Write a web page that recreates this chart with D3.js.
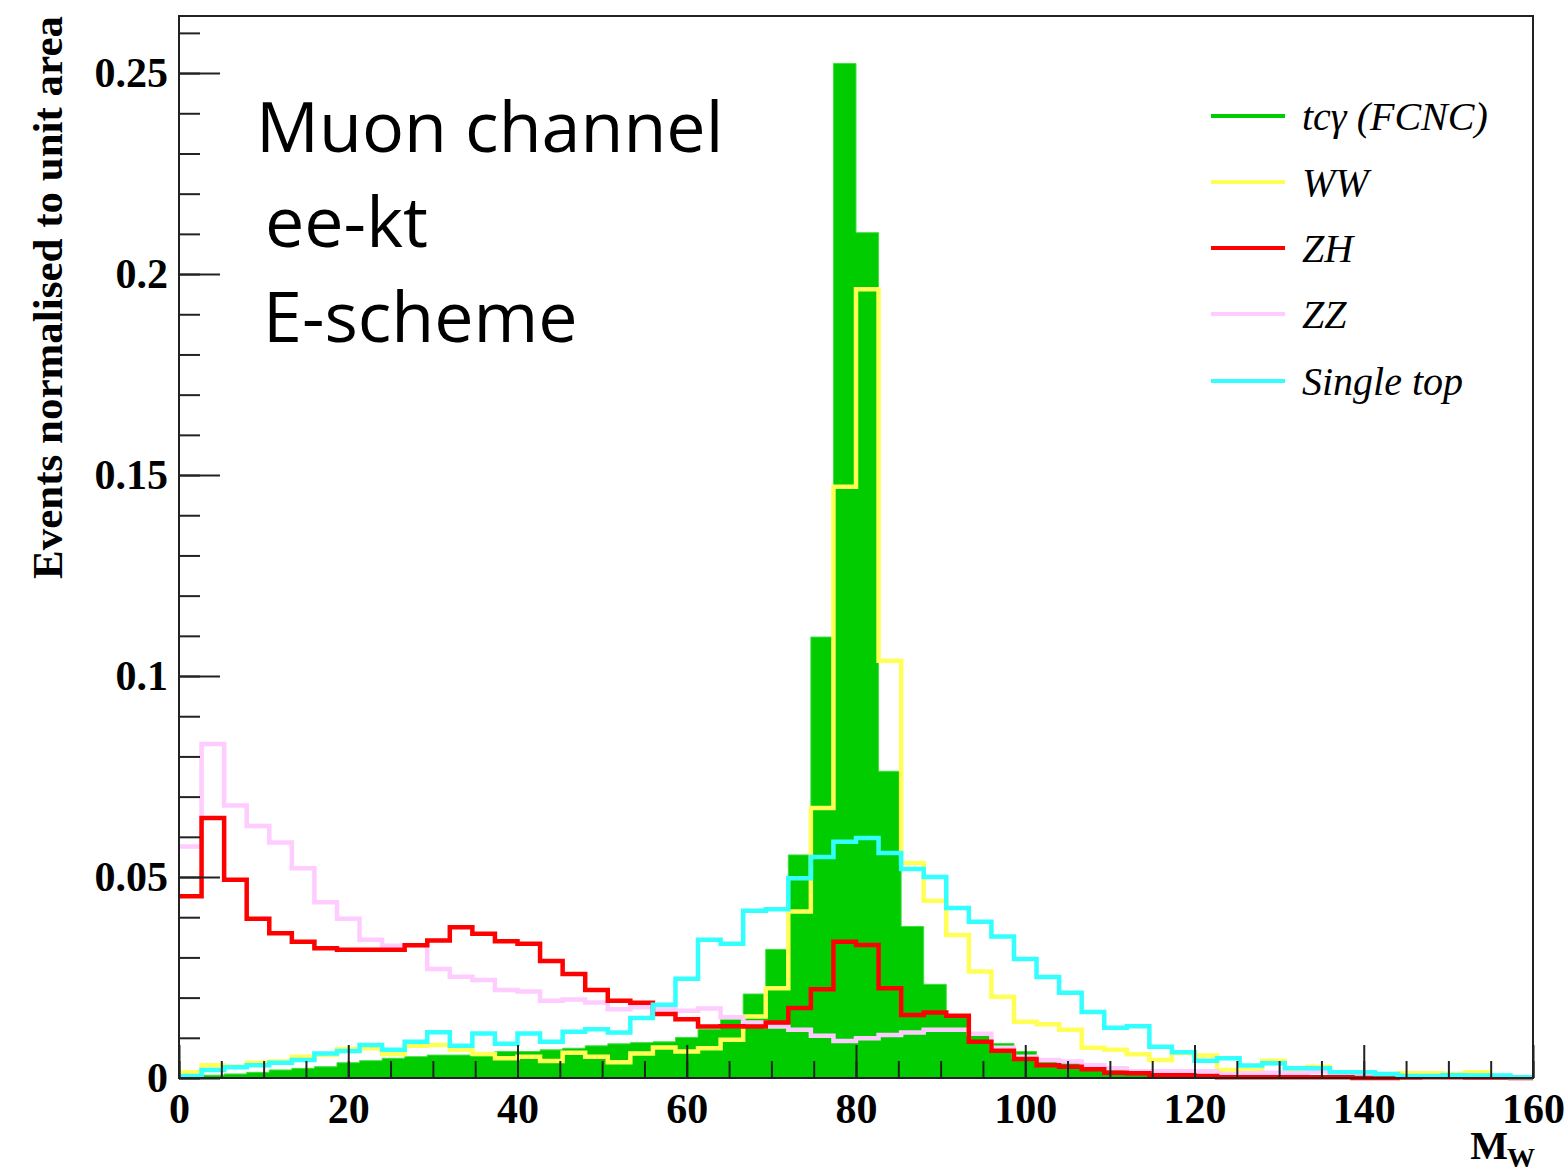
<!DOCTYPE html>
<html>
<head>
<meta charset="utf-8">
<script src="https://cdn.jsdelivr.net/npm/d3@7"></script>
<style>
  html, body { margin: 0; padding: 0; background: #fff; }
  svg { display: block; }
</style>
</head>
<body>
<svg id="chart" width="1568" height="1172"></svg>
<script>
// Histogram binning of the reconstructed W mass (GeV): 60 equal bins on [0, 160]
const binLow = 0;
const binHigh = 160;
const nBins = 60;

// Normalised bin contents, one array per sample
const tcgamma = [
  0.0003, 0.0007, 0.0010, 0.0014, 0.0020, 0.0024, 0.0028, 0.0038, 0.0043, 0.0049,
  0.0053, 0.0057, 0.0057, 0.0055, 0.0066, 0.0066, 0.0070, 0.0074, 0.0080, 0.0085,
  0.0088, 0.0090, 0.0101, 0.0121, 0.0146, 0.0209, 0.0320, 0.0555, 0.1097, 0.2524,
  0.2103, 0.0763, 0.0377, 0.0233, 0.0157, 0.0113, 0.0086, 0.0066, 0.0041, 0.0038,
  0.0028, 0.0020, 0.0012, 0.0015, 0.0008, 0.0006, 0.0004, 0.0007, 0.0003, 0.0002,
  0.0001, 0.0001, 0.0001, 0.0001, 0.0000, 0.0000, 0.0000, 0.0000, 0.0000, 0.0000
];
const ww = [
  0.0014, 0.0032, 0.0028, 0.0038, 0.0041, 0.0053, 0.0058, 0.0072, 0.0074, 0.0060,
  0.0080, 0.0082, 0.0070, 0.0060, 0.0049, 0.0053, 0.0042, 0.0063, 0.0053, 0.0039,
  0.0061, 0.0076, 0.0066, 0.0074, 0.0095, 0.0153, 0.0223, 0.0414, 0.0672, 0.1471,
  0.1962, 0.1038, 0.0535, 0.0441, 0.0356, 0.0265, 0.0202, 0.0140, 0.0134, 0.0120,
  0.0075, 0.0070, 0.0059, 0.0045, 0.0062, 0.0056, 0.0020, 0.0020, 0.0043, 0.0016,
  0.0028, 0.0014, 0.0013, 0.0010, 0.0012, 0.0012, 0.0010, 0.0014, 0.0004, 0.0001
];
const zh = [
  0.0452, 0.0647, 0.0493, 0.0396, 0.0360, 0.0339, 0.0323, 0.0319, 0.0319, 0.0319,
  0.0330, 0.0342, 0.0375, 0.0359, 0.0340, 0.0334, 0.0291, 0.0259, 0.0219, 0.0192,
  0.0187, 0.0159, 0.0146, 0.0128, 0.0129, 0.0128, 0.0138, 0.0174, 0.0221, 0.0339,
  0.0331, 0.0223, 0.0157, 0.0163, 0.0155, 0.0090, 0.0068, 0.0047, 0.0032, 0.0028,
  0.0022, 0.0013, 0.0012, 0.0007, 0.0007, 0.0005, 0.0002, 0.0002, 0.0002, 0.0002,
  0.0002, 0.0002, 0.0000, 0.0000, 0.0001, 0.0002, 0.0002, 0.0001, 0.0001, 0.0000
];
const zz = [
  0.0576, 0.0831, 0.0678, 0.0627, 0.0586, 0.0522, 0.0437, 0.0396, 0.0344, 0.0329,
  0.0330, 0.0271, 0.0252, 0.0244, 0.0219, 0.0215, 0.0192, 0.0195, 0.0188, 0.0171,
  0.0176, 0.0171, 0.0167, 0.0173, 0.0151, 0.0138, 0.0128, 0.0120, 0.0105, 0.0092,
  0.0099, 0.0107, 0.0113, 0.0120, 0.0120, 0.0110, 0.0075, 0.0053, 0.0045, 0.0041,
  0.0032, 0.0024, 0.0017, 0.0017, 0.0017, 0.0017, 0.0010, 0.0012, 0.0013, 0.0012,
  0.0016, 0.0006, 0.0005, 0.0004, 0.0003, 0.0003, 0.0003, 0.0002, 0.0002, 0.0001
];
const singleTop = [
  0.0005, 0.0020, 0.0027, 0.0032, 0.0038, 0.0045, 0.0061, 0.0067, 0.0082, 0.0070,
  0.0090, 0.0114, 0.0080, 0.0111, 0.0085, 0.0111, 0.0090, 0.0115, 0.0121, 0.0113,
  0.0149, 0.0182, 0.0247, 0.0344, 0.0334, 0.0416, 0.0420, 0.0497, 0.0550, 0.0588,
  0.0597, 0.0560, 0.0520, 0.0500, 0.0423, 0.0389, 0.0352, 0.0296, 0.0251, 0.0212,
  0.0164, 0.0125, 0.0129, 0.0078, 0.0064, 0.0043, 0.0049, 0.0031, 0.0037, 0.0024,
  0.0024, 0.0014, 0.0014, 0.0010, 0.0005, 0.0005, 0.0007, 0.0006, 0.0006, 0.0002
];

// Legend entries, in display order
const legendLabels = ["tc\u03b3 (FCNC)", "WW", "ZH", "ZZ", "Single top"];
const legendColors = ["#00cc00", "#ffff55", "#ff0000", "#ffccff", "#33ffff"];

// Axis ticks
const xMajorTicks = [0, 20, 40, 60, 80, 100, 120, 140, 160];
const xMinorTicks = d3.range(0, 161, 5);
const yMajorTicks = [0, 0.05, 0.1, 0.15, 0.2, 0.25];
const yTickLabels = ["0", "0.05", "0.1", "0.15", "0.2", "0.25"];
const yMinorTicks = d3.range(0, 27).map(i => i / 100);

const yMax = 0.2642;

// Annotation lines in the upper-left corner
const infoLines = ["Muon channel", "ee-kt", "E-scheme"];

// ---------- layout ----------
const svg = d3.select("#chart");
const frame = { left: 179, right: 1533, top: 16, bottom: 1078 };

const x = d3.scaleLinear().domain([binLow, binHigh]).range([frame.left, frame.right]);
const y = d3.scaleLinear().domain([0, yMax]).range([frame.bottom, frame.top]);

const binWidth = (binHigh - binLow) / nBins;
const edges = d3.range(nBins + 1).map(i => binLow + i * binWidth);

// Step points: (left edge, content) for every bin, closed at the upper edge
function stepPoints(vals) {
  const pts = vals.map((v, i) => ({ e: edges[i], v }));
  pts.push({ e: edges[nBins], v: vals[nBins - 1] });
  return pts;
}

const stepLine = d3.line()
  .x(d => x(d.e))
  .y(d => y(d.v))
  .curve(d3.curveStepAfter);

const stepArea = d3.area()
  .x(d => x(d.e))
  .y0(y(0))
  .y1(d => y(d.v))
  .curve(d3.curveStepAfter);

const plot = svg.append("g");

// Signal drawn as a filled histogram
plot.append("path")
  .datum(stepPoints(tcgamma))
  .attr("d", stepArea)
  .attr("fill", "#00cc00")
  .attr("stroke", "#3fe03f")
  .attr("stroke-width", 1);

// Backgrounds drawn as outlined histograms
const outlines = [
  { vals: ww, color: legendColors[1] },
  { vals: zz, color: legendColors[3] },
  { vals: zh, color: legendColors[2] },
  { vals: singleTop, color: legendColors[4] }
];
outlines.forEach(s => {
  plot.append("path")
    .datum(stepPoints(s.vals))
    .attr("d", stepLine)
    .attr("fill", "none")
    .attr("stroke", s.color)
    .attr("stroke-width", 4.5)
    .attr("stroke-linejoin", "miter");
});

// ---------- axes ----------
const tickFont = "'Liberation Serif', 'Times New Roman', serif";

const yMinorAxis = d3.axisLeft(y).tickValues(yMinorTicks).tickSize(-21).tickFormat("");
const yMajorAxis = d3.axisLeft(y).tickValues(yMajorTicks).tickSize(-41).tickPadding(11)
  .tickFormat((d, i) => yTickLabels[i]);
const xMinorAxis = d3.axisBottom(x).tickValues(xMinorTicks).tickSize(-17).tickFormat("");
const xMajorAxis = d3.axisBottom(x).tickValues(xMajorTicks).tickSize(-33).tickPadding(15)
  .tickFormat(d3.format("d"));

function styleAxis(g) {
  g.select(".domain").remove();
  g.selectAll(".tick line").attr("stroke", "#222").attr("stroke-width", 2);
  g.selectAll(".tick text")
    .attr("fill", "#000")
    .style("font-family", tickFont)
    .style("font-weight", "bold")
    .style("font-size", "42px");
}

svg.append("g").attr("transform", `translate(${frame.left},0)`).call(yMinorAxis).call(styleAxis);
svg.append("g").attr("transform", `translate(${frame.left},0)`).call(yMajorAxis).call(styleAxis);
svg.append("g").attr("transform", `translate(0,${frame.bottom})`).call(xMinorAxis).call(styleAxis);
svg.append("g").attr("transform", `translate(0,${frame.bottom})`).call(xMajorAxis).call(styleAxis);

// Frame
svg.append("rect")
  .attr("x", frame.left).attr("y", frame.top)
  .attr("width", frame.right - frame.left)
  .attr("height", frame.bottom - frame.top)
  .attr("fill", "none")
  .attr("stroke", "#222")
  .attr("stroke-width", 2);

// Axis titles
svg.append("text")
  .attr("transform", `translate(62,${frame.top}) rotate(-90)`)
  .attr("text-anchor", "end")
  .style("font-family", tickFont)
  .style("font-weight", "bold")
  .style("font-size", "43px")
  .text("Events normalised to unit area");

svg.append("text")
  .attr("x", 1508).attr("y", 1159)
  .attr("text-anchor", "end")
  .style("font-family", tickFont)
  .style("font-weight", "bold")
  .style("font-size", "40px")
  .text("M");
svg.append("text")
  .attr("x", 1507).attr("y", 1167)
  .style("font-family", tickFont)
  .style("font-weight", "bold")
  .style("font-size", "28px")
  .text("W");

// ---------- legend ----------
const legendY = [116, 182, 248, 314, 381];
const legend = svg.append("g");
legendLabels.forEach((lab, i) => {
  legend.append("line")
    .attr("x1", 1211).attr("x2", 1285)
    .attr("y1", legendY[i]).attr("y2", legendY[i])
    .attr("stroke", legendColors[i])
    .attr("stroke-width", 4);
  legend.append("text")
    .attr("x", 1302).attr("y", legendY[i] + 14)
    .style("font-family", tickFont)
    .style("font-style", "italic")
    .style("font-size", "40px")
    .attr("fill", "#000")
    .text(lab);
});

// ---------- annotation ----------
const infoX = [256, 265, 263];
const infoY = [152, 247, 342];
infoLines.forEach((t, i) => {
  svg.append("text")
    .attr("x", infoX[i]).attr("y", infoY[i])
    .style("font-family", "'Open Sans', 'Noto Sans', sans-serif")
    .style("font-size", "70px")
    .attr("fill", "#000")
    .text(t);
});
</script>
</body>
</html>
